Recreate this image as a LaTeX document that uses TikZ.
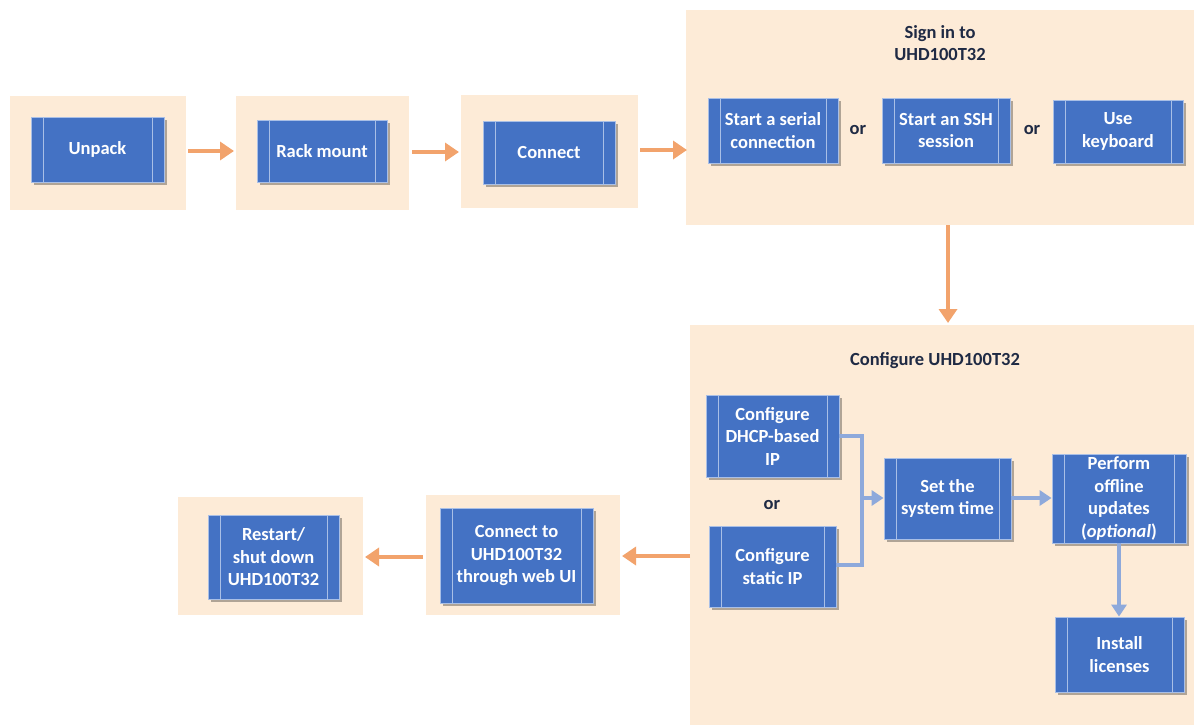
\documentclass[tikz,border=0pt]{standalone}
\usepackage{fontspec}
\setmainfont{Carlito}
\usetikzlibrary{shadows,arrows.meta}
\definecolor{panel}{HTML}{FDEBD7}
\definecolor{boxblue}{HTML}{4472C4}
\definecolor{boxline}{HTML}{A9BFE6}
\definecolor{orangearr}{HTML}{F2A36C}
\definecolor{bluearr}{HTML}{8EA9DB}
\definecolor{navy}{HTML}{1F2A44}
\tikzset{
  panelbox/.style={fill=panel, draw=none},
  pbox/.style={draw=boxline, line width=0.8pt, fill=boxblue, text=white, inner sep=0pt,
    align=center, font=\fontsize{18.5}{22.5}\selectfont\bfseries,
    drop shadow={shadow xshift=2.5pt, shadow yshift=-2.5pt, fill=black, opacity=0.3},
    path picture={
      \draw[boxline, line width=0.8pt] ([xshift=12pt]path picture bounding box.north west) -- ([xshift=12pt]path picture bounding box.south west);
      \draw[boxline, line width=0.8pt] ([xshift=-12pt]path picture bounding box.north east) -- ([xshift=-12pt]path picture bounding box.south east);
    }},
  title/.style={text=navy, align=center, font=\fontsize{18.5}{22.5}\selectfont\bfseries},
  ortext/.style={text=navy, font=\fontsize{18.5}{22}\selectfont\bfseries},
  oarrow/.style={draw=orangearr, line width=4.5pt, -{Triangle[length=14pt,width=18pt]}},
  barrow/.style={draw=bluearr, line width=3.5pt, -{Triangle[length=12pt,width=15pt]}},
  bline/.style={draw=bluearr, line width=3.5pt},
}
\newcommand{\boxat}[6]{%
  \node[pbox, minimum width={(#4-#2)*1pt}, minimum height={(#5-#3)*1pt}] (#1) at ({(#2+#4)/2},{(#3+#5)/2}) {#6};}
\begin{document}
\begin{tikzpicture}[x=1pt,y=-1pt]
\useasboundingbox (0,0) rectangle (1194,725);
% panels
\fill[panelbox] (10,96) rectangle (186,210);
\fill[panelbox] (236,96) rectangle (409,210);
\fill[panelbox] (461,95) rectangle (638,208);
\fill[panelbox] (686,10) rectangle (1194,225);
\fill[panelbox] (690,325) rectangle (1194,725);
\fill[panelbox] (426,495) rectangle (620,615);
\fill[panelbox] (178,497) rectangle (363,615);
% anchors of panels
\coordinate (p1r) at (188,151);
\coordinate (p2l) at (234,151);
\coordinate (p2r) at (412,152);
\coordinate (p3l) at (459,152);
\coordinate (p3r) at (640,150);
\coordinate (p4l) at (687,150);
\coordinate (p4b) at (948,225);
\coordinate (p5t) at (948,323);
\coordinate (p5l) at (690,556);
\coordinate (p6r) at (622,556);
\coordinate (p6l) at (423,557);
\coordinate (p7r) at (365,557);
% boxes
\boxat{unpack}{31}{117}{164}{182}{Unpack}
\boxat{rack}{257}{120}{387}{182}{Rack mount}
\boxat{conn}{483}{121}{615}{184}{Connect}
\boxat{serial}{708}{98}{838}{163}{Start a serial\\connection}
\boxat{ssh}{882}{98}{1010}{163}{Start an SSH\\session}
\boxat{kbd}{1053}{100}{1183}{163}{Use\\keyboard}
\boxat{dhcp}{706}{395}{839}{477}{Configure\\DHCP-based\\IP}
\boxat{static}{709}{526}{836}{607}{Configure\\static IP}
\boxat{time}{884}{458}{1011}{539}{Set the\\system time}
\boxat{perf}{1052}{454}{1186}{543}{Perform\\offline\\updates\\(\textit{optional})}
\boxat{lic}{1055}{617}{1184}{692}{Install\\licenses}
\boxat{web}{440}{508}{593}{603}{Connect to\\UHD100T32\\through web UI}
\boxat{restart}{208}{515}{339}{599}{Restart/\\shut down\\UHD100T32}
% texts
\node[title] (t1) at (940,43) {Sign in to\\UHD100T32};
\node[title] (t2) at (935,361) {Configure UHD100T32};
\node[ortext] (or1) at (858,130) {or};
\node[ortext] (or2) at (1032,130) {or};
\node[ortext] (or3) at (772,505) {or};
% orange arrows
\draw[oarrow] (p1r) -- (p2l);
\draw[oarrow] (p2r) -- (p3l);
\draw[oarrow] (p3r) -- (p4l);
\draw[oarrow] (p4b) -- (p5t);
\draw[oarrow] (p5l) -- (p6r);
\draw[oarrow] (p6l) -- (p7r);
% blue connectors
\coordinate (j) at (862,498);
\draw[bline] (dhcp.east |- 0,436) -| (j);
\draw[bline] (static.east |- 0,565) -| (j);
\draw[barrow] (j) -- (time.west |- j);
\draw[barrow] (time.east |- 0,498) -- (perf.west |- 0,498);
\draw[barrow] (perf.south -| 1119,0) -- (lic.north -| 1119,0);
\end{tikzpicture}
\end{document}
